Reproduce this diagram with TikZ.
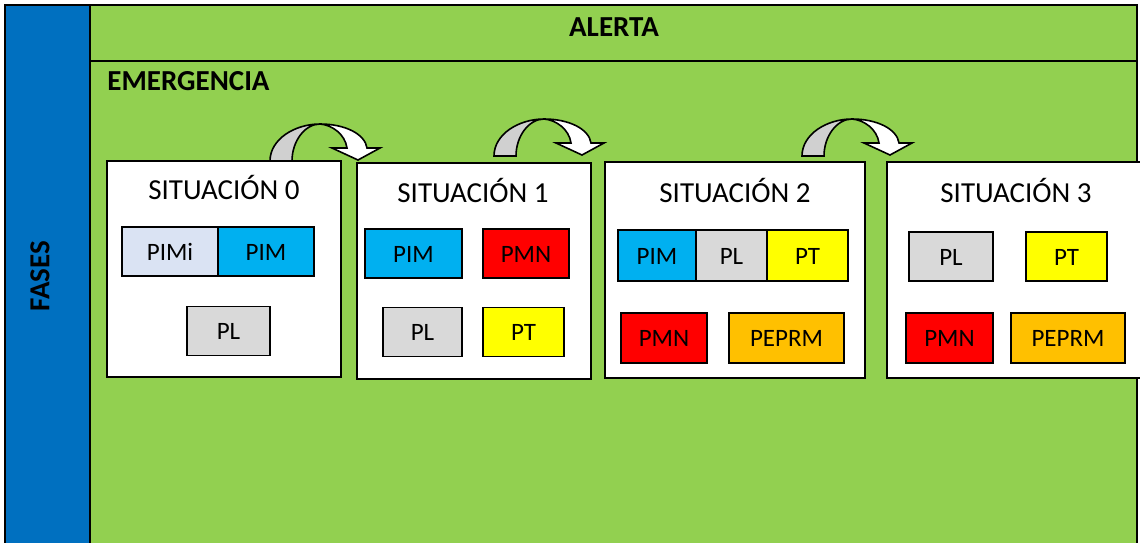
\documentclass[tikz,border=0pt]{standalone}
\usepackage{fontspec}
\setmainfont{Carlito}
\definecolor{fasegreen}{HTML}{92D050}
\definecolor{faseblue}{HTML}{0070C0}
\definecolor{arrowgray}{HTML}{D0D0D0}
\definecolor{colPIMi}{HTML}{DAE3F3}
\definecolor{colPIM}{HTML}{00B0F0}
\definecolor{colPL}{HTML}{D9D9D9}
\definecolor{colPT}{HTML}{FFFF00}
\definecolor{colPMN}{HTML}{FF0000}
\definecolor{colPEPRM}{HTML}{FFC000}
\begin{document}
\begin{tikzpicture}[x=0.5pt, y=-0.5pt,
% common options for the situation frames:
sitbox/.style = {draw, fill=white, line width=0.8pt, inner sep=0, minimum height=108pt},
% common options for the plan boxes:
plan/.style = {draw, line width=0.8pt, inner sep=0, minimum height=24.5pt,
            text height=0.88em, text depth=0pt, font=\fontsize{12.5}{14}\selectfont},
title/.style = {anchor=base, font=\fontsize{14.5}{16}\selectfont},
head/.style = {inner sep=0, font=\bfseries\fontsize{14.5}{16}\selectfont}]
\clip (0,0) rectangle (1140,542);
\fill[white] (0,0) rectangle (1140,542);
% phase columns
\draw[fill=faseblue, line width=0.6pt] (5,5) rectangle (90,560);
\draw[fill=fasegreen, line width=0.6pt] (90,5) rectangle (1137,560);
\draw[line width=0.6pt] (90,61) -- (1137,61);
\node[head, rotate=90] (fases) at (40,276) {FASES};
\node[head] (alerta) at (614,27) {ALERTA};
\node[head, anchor=west] (emerg) at (107,81) {EMERGENCIA};
% curved arrows
\foreach \px/\py in {270/161, 494/156, 802/156} {
  \begin{scope}[shift={(\px,\py)}]
  \filldraw[fill=arrowgray, line width=0.8pt] (0,0) .. controls (0,-22) and (25,-37) .. (50,-37)
      .. controls (35,-37) and (22,-20) .. (22,0) -- cycle;
  \filldraw[fill=white, line width=0.8pt] (50,-37) .. controls (75,-37) and (95,-27) .. (97,-13)
      -- (110,-13) -- (88,-1) -- (62,-13) -- (77,-13)
      .. controls (75,-27) and (62,-36) .. (50,-37) -- cycle;
  \end{scope}
}
% situation frames
\node[sitbox, minimum width=117pt] (S0) at (224,269) {};
\node[sitbox, minimum width=117pt] (S1) at (474,271) {};
\node[sitbox, minimum width=130pt] (S2) at (735,270) {};
\node[sitbox, minimum width=129pt] (S3) at (1016,270) {};
\node[title] (T0) at (224,199) {SITUACIÓN 0};
\node[title] (T1) at (473,202) {SITUACIÓN 1};
\node[title] (T2) at (735,202) {SITUACIÓN 2};
\node[title] (T3) at (1016,202) {SITUACIÓN 3};
% situation 0
\node[plan, fill=colPIMi, minimum width=48pt] (S0a) at (170,251.5) {PIMi};
\node[plan, fill=colPIM, minimum width=48pt] (S0b) at (266,251.5) {PIM};
\node[plan, fill=colPL, minimum width=41.5pt] (S0c) at (228.5,331) {PL};
% situation 1
\node[plan, fill=colPIM, minimum width=48.5pt] (S1a) at (413.5,253.5) {PIM};
\node[plan, fill=colPMN, minimum width=43pt] (S1b) at (526,253.5) {PMN};
\node[plan, fill=colPL, minimum width=39.5pt] (S1c) at (422.5,332) {PL};
\node[plan, fill=colPT, minimum width=40.5pt] (S1d) at (523.5,332) {PT};
% situation 2
\node[plan, fill=colPIM, minimum width=39pt, minimum height=25.5pt] (S2a) at (657,255.5) {PIM};
\node[plan, fill=colPL, minimum width=35.5pt, minimum height=25.5pt] (S2b) at (731.5,255.5) {PL};
\node[plan, fill=colPT, minimum width=40.5pt, minimum height=25.5pt] (S2c) at (807.5,255.5) {PT};
\node[plan, fill=colPMN, minimum width=43pt, minimum height=25pt] (S2d) at (664,338) {PMN};
\node[plan, fill=colPEPRM, minimum width=57.5pt, minimum height=25pt] (S2e) at (786.5,338) {PEPRM};
% situation 3
\node[plan, fill=colPL, minimum width=42pt] (S3a) at (951,256.5) {PL};
\node[plan, fill=colPT, minimum width=40.5pt] (S3b) at (1066.5,256.5) {PT};
\node[plan, fill=colPMN, minimum width=43.5pt, minimum height=25pt] (S3c) at (949.5,338) {PMN};
\node[plan, fill=colPEPRM, minimum width=57pt, minimum height=25pt] (S3d) at (1068,338) {PEPRM};
\end{tikzpicture}
\end{document}
